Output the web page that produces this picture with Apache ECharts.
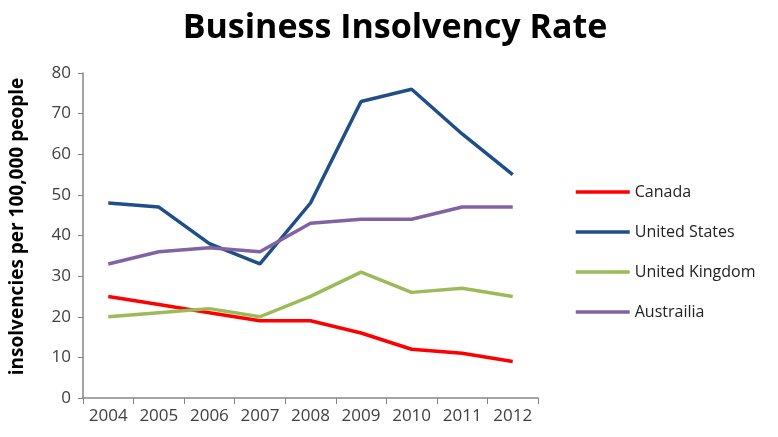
<!DOCTYPE html>
<html>
<head>
<meta charset="utf-8">
<script src="https://cdn.jsdelivr.net/npm/echarts@6/dist/echarts.min.js"></script>
<style>
  html, body { margin: 0; padding: 0; background: #fff; }
  #chart { width: 778px; height: 437px; }
</style>
</head>
<body>
<div id="chart"></div>
<script>
// years on the x axis
const years = ["2004", "2005", "2006", "2007", "2008", "2009", "2010", "2011", "2012"];
// insolvencies per 100,000 people
const canada = [25, 23, 21, 19, 19, 16, 12, 11, 9];
const unitedStates = [48, 47, 38, 33, 48, 73, 76, 65, 55];
const unitedKingdom = [20, 21, 22, 20, 25, 31, 26, 27, 25];
const australia = [33, 36, 37, 36, 43, 44, 44, 47, 47];

const font = "'Open Sans', 'DejaVu Sans', sans-serif";

function line(name, data, color) {
  return {
    name: name,
    type: "line",
    data: data,
    showSymbol: false,
    symbol: "none",
    lineStyle: { width: 3.5, color: color },
    itemStyle: { color: color },
  };
}

const myChart = echarts.init(document.getElementById("chart"));
myChart.setOption({
  animation: false,
  title: {
    text: "Business Insolvency Rate",
    left: 390,
    textAlign: "center",
    top: 6,
    textStyle: { fontFamily: font, fontSize: 34, fontWeight: "bold", color: "#000" },
  },
  legend: {
    orient: "vertical",
    left: 569,
    top: 179,
    itemWidth: 54,
    itemHeight: 18,
    itemGap: 24,
    itemStyle: { opacity: 0 },
    lineStyle: { width: 3.5 },
    textStyle: { fontFamily: font, fontSize: 16, color: "#222" },
    data: ["Canada", "United States", "United Kingdom", "Austrailia"],
  },
  grid: { left: 82, right: 240, top: 73, bottom: 39 },
  xAxis: {
    type: "category",
    data: years,
    boundaryGap: true,
    axisLine: { lineStyle: { color: "#868686", width: 1.5 } },
    axisTick: { show: true, length: 6, lineStyle: { color: "#868686" } },
    axisLabel: { fontFamily: font, fontSize: 17, color: "#404040", margin: 10 },
  },
  yAxis: {
    type: "value",
    min: 0,
    max: 80,
    interval: 10,
    name: "insolvencies per 100,000 people",
    nameLocation: "middle",
    nameGap: 56,
    nameTextStyle: { fontFamily: font, fontSize: 19, fontWeight: "bold", color: "#000", padding: [0, 0, 0, 18] },
    axisLine: { show: true, lineStyle: { color: "#868686", width: 1.5 } },
    axisTick: { show: true, length: 5, lineStyle: { color: "#868686" } },
    splitLine: { show: false },
    axisLabel: { fontFamily: font, fontSize: 17, color: "#404040", margin: 12 },
  },
  series: [
    line("Canada", canada, "#ff0000"),
    line("United States", unitedStates, "#1f4e8a"),
    line("United Kingdom", unitedKingdom, "#9bbb59"),
    line("Austrailia", australia, "#8064a2"),
  ],
});
</script>
</body>
</html>
